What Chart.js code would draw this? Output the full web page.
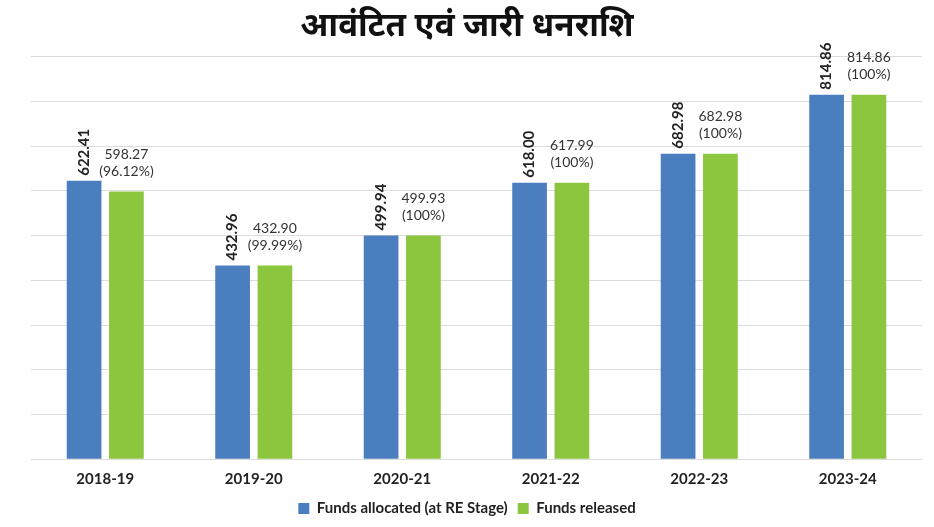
<!DOCTYPE html>
<html lang="hi">
<head>
<meta charset="utf-8">
<title>आवंटित एवं जारी धनराशि</title>
<script src="https://cdn.jsdelivr.net/npm/chart.js@4.4.1/dist/chart.umd.min.js"></script>
<style>
  html, body { margin: 0; padding: 0; background: #ffffff; }
  #wrap { position: relative; width: 934px; height: 527px; }
</style>
</head>
<body>
<div id="wrap"><canvas id="fundsChart" width="934" height="527"></canvas></div>
<script>
'use strict';

// annees budgetaires
const annees = ['2018-19', '2019-20', '2020-21', '2021-22', '2022-23', '2023-24'];
// fonds alloues (stade RE), en crores
const fondsAlloues = [622.41, 432.96, 499.94, 618.00, 682.98, 814.86];
// fonds liberes
const fondsLiberes = [598.27, 432.90, 499.93, 617.99, 682.98, 814.86];
// pourcentage libere, affiche sous la valeur
const pctLiberes = ['96.12%', '99.99%', '100%', '100%', '100%', '100%'];

const BLEU = '#4a7ebf';
const VERT = '#8cc63f';

// etiquettes au dessus des barres : verticales en gras pour les alloues,
// deux lignes (valeur + pourcentage) pour les liberes
const etiquettesBarres = {
  id: 'etiquettesBarres',
  afterDatasetsDraw(chart) {
    const ctx = chart.ctx;
    const metaAlloues = chart.getDatasetMeta(0);
    const metaLiberes = chart.getDatasetMeta(1);

    ctx.save();
    ctx.fillStyle = '#222222';
    ctx.font = 'bold 15px Lato';
    ctx.textAlign = 'left';
    ctx.textBaseline = 'middle';
    metaAlloues.data.forEach((barre, i) => {
      ctx.save();
      ctx.translate(barre.x, barre.y - 5);
      ctx.rotate(-Math.PI / 2);
      ctx.fillText(fondsAlloues[i].toFixed(2), 0, 0);
      ctx.restore();
    });

    ctx.fillStyle = '#333333';
    ctx.font = '14px Lato';
    ctx.textAlign = 'center';
    ctx.textBaseline = 'alphabetic';
    metaLiberes.data.forEach((barre, i) => {
      ctx.fillText('(' + pctLiberes[i] + ')', barre.x, barre.y - 16);
      ctx.fillText(fondsLiberes[i].toFixed(2), barre.x, barre.y - 33);
    });
    ctx.restore();
  }
};

const ctx = document.getElementById('fundsChart').getContext('2d');

const fundsChart = new Chart(ctx, {
  type: 'bar',
  data: {
    labels: annees,
    datasets: [
      {
        label: 'Funds allocated (at RE Stage)',
        data: fondsAlloues,
        backgroundColor: BLEU,
        borderWidth: 0,
        categoryPercentage: 0.57,
        barPercentage: 0.82
      },
      {
        label: 'Funds released',
        data: fondsLiberes,
        backgroundColor: VERT,
        borderWidth: 0,
        categoryPercentage: 0.57,
        barPercentage: 0.82
      }
    ]
  },
  options: {
    responsive: false,
    animation: false,
    layout: {
      padding: { left: 12, right: 12, top: 0, bottom: 1 }
    },
    plugins: {
      title: {
        display: true,
        text: 'आवंटित एवं जारी धनराशि',
        color: '#111111',
        font: { size: 33, weight: 'bold', family: '"Noto Sans", sans-serif' },
        padding: { top: 7, bottom: 10 }
      },
      legend: {
        position: 'bottom',
        labels: {
          color: '#222222',
          font: { size: 15, weight: 'bold', family: 'Lato' },
          boxWidth: 11,
          boxHeight: 11,
          padding: 10
        }
      },
      tooltip: { enabled: false }
    },
    scales: {
      x: {
        grid: { display: false },
        border: { display: false },
        ticks: {
          color: '#222222',
          font: { size: 15, weight: 'bold', family: 'Lato', lineHeight: 1.45 },
          padding: 1
        }
      },
      y: {
        min: 0,
        max: 900,
        // pas de graduations, juste une marge a gauche
        afterFit(scale) { scale.width = 19; },
        ticks: { display: false, stepSize: 100 },
        border: { display: false },
        grid: { color: '#dcdcdc', lineWidth: 1, drawTicks: false }
      }
    }
  },
  plugins: [etiquettesBarres]
});
</script>
</body>
</html>
